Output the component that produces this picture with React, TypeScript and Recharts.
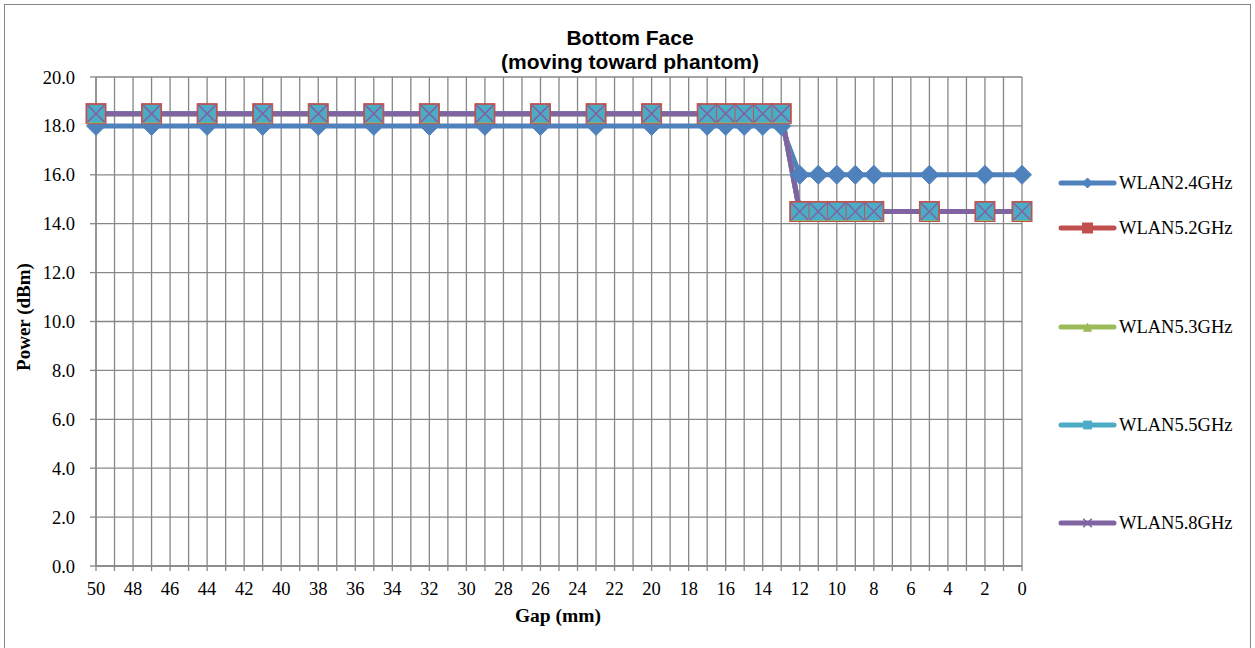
import React from 'react';
import { LineChart, Line, XAxis, YAxis, CartesianGrid } from 'recharts';

// gap positions in mm (the x axis runs from 50 down to 0)
const gaps = [50, 47, 44, 41, 38, 35, 32, 29, 26, 23, 20, 17, 16, 15, 14, 13, 12, 11, 10, 9, 8, 5, 2, 0];
const wlan24 = [18, 18, 18, 18, 18, 18, 18, 18, 18, 18, 18, 18, 18, 18, 18, 18, 16, 16, 16, 16, 16, 16, 16, 16];
const wlan52 = [18.5, 18.5, 18.5, 18.5, 18.5, 18.5, 18.5, 18.5, 18.5, 18.5, 18.5, 18.5, 18.5, 18.5, 18.5, 18.5, 14.5, 14.5, 14.5, 14.5, 14.5, 14.5, 14.5, 14.5];
const wlan53 = [18.5, 18.5, 18.5, 18.5, 18.5, 18.5, 18.5, 18.5, 18.5, 18.5, 18.5, 18.5, 18.5, 18.5, 18.5, 18.5, 14.5, 14.5, 14.5, 14.5, 14.5, 14.5, 14.5, 14.5];
const wlan55 = [18.5, 18.5, 18.5, 18.5, 18.5, 18.5, 18.5, 18.5, 18.5, 18.5, 18.5, 18.5, 18.5, 18.5, 18.5, 18.5, 14.5, 14.5, 14.5, 14.5, 14.5, 14.5, 14.5, 14.5];
const wlan58 = [18.5, 18.5, 18.5, 18.5, 18.5, 18.5, 18.5, 18.5, 18.5, 18.5, 18.5, 18.5, 18.5, 18.5, 18.5, 18.5, 14.5, 14.5, 14.5, 14.5, 14.5, 14.5, 14.5, 14.5];

const xTicks = Array.from({ length: 51 }, (_, i) => i);
const yTicks = [0, 2, 4, 6, 8, 10, 12, 14, 16, 18, 20];
const yMinorTicks = [1, 3, 5, 7, 9, 11, 13, 15, 17, 19];

const data = gaps.map((gap, i) => ({
    gap,
    w24: wlan24[i],
    w52: wlan52[i],
    w53: wlan53[i],
    w55: wlan55[i],
    w58: wlan58[i],
}));

const series = [
    { key: 'w24', name: 'WLAN2.4GHz', color: '#4F81BD', shape: 'diamond' },
    { key: 'w52', name: 'WLAN5.2GHz', color: '#C0504D', shape: 'square' },
    { key: 'w53', name: 'WLAN5.3GHz', color: '#9BBB59', shape: 'triangle' },
    { key: 'w55', name: 'WLAN5.5GHz', color: '#4BACC6', shape: 'square2' },
    { key: 'w58', name: 'WLAN5.8GHz', color: '#8064A2', shape: 'cross' },
];

const legendY = [183, 228, 327, 425, 523];

const gridColor = '#878787';
const serif = 'Liberation Serif';
const sans = 'Liberation Sans';

function Marker(cx: number, cy: number, shape: string, color: string, s: number) {
    switch (shape) {
        case 'diamond':
            return <path d={`M${cx},${cy - s}L${cx + s},${cy}L${cx},${cy + s}L${cx - s},${cy}Z`} fill={color} stroke={color} />;
        case 'square':
            return <rect x={cx - s} y={cy - s} width={2 * s} height={2 * s} fill={color} stroke={color} strokeWidth={1} />;
        case 'triangle':
            return <path d={`M${cx},${cy - s * 0.9}L${cx + s * 0.95},${cy + s * 0.95}L${cx - s * 0.95},${cy + s * 0.95}Z`} fill={color} />;
        case 'square2':
            return <rect x={cx - s * 0.88} y={cy - s * 0.88} width={1.76 * s} height={1.76 * s} fill={color} />;
        case 'cross':
            return (
                <path
                    d={`M${cx - s * 0.85},${cy - s * 0.85}L${cx + s * 0.85},${cy + s * 0.85}M${cx + s * 0.85},${cy - s * 0.85}L${cx - s * 0.85},${cy + s * 0.85}`}
                    stroke={color}
                    strokeWidth={1.6}
                    fill="none"
                />
            );
        default:
            return null;
    }
}

const makeDot = (shape: string, color: string) => (props: any) => {
    const { cx, cy, index } = props;
    if (cx == null || cy == null) return <g key={index} />;
    return <g key={index}>{Marker(cx, cy, shape, color, shape === 'diamond' ? 9.5 : 10)}</g>;
};

export default function App() {
    return (
        <div
            style={{
                position: 'absolute',
                left: 0,
                top: 0,
                width: 1255,
                height: 648,
                background: '#fff',
                overflow: 'hidden',
                fontFamily: serif,
            }}
        >
            <div
                style={{
                    position: 'absolute',
                    left: 4,
                    top: 4,
                    width: 1247,
                    height: 660,
                    border: `1.5px solid ${gridColor}`,
                    boxSizing: 'border-box',
                }}
            />
            <LineChart
                width={1255}
                height={648}
                data={data}
                margin={{ top: 77, right: 233, bottom: 42, left: 0 }}
                style={{ fontFamily: serif }}
            >
                <CartesianGrid stroke={gridColor} strokeWidth={1.3} />
                <XAxis
                    dataKey="gap"
                    type="number"
                    domain={[0, 50]}
                    reversed
                    ticks={xTicks}
                    interval={0}
                    height={40}
                    tickSize={5}
                    tickMargin={11}
                    tickFormatter={(v) => (v % 2 === 0 ? `${v}` : '')}
                    stroke={gridColor}
                    strokeWidth={1.3}
                    tick={{ fill: '#000', fontSize: 18.5, style: { fontFamily: serif } }}
                />
                <YAxis
                    type="number"
                    domain={[0, 20]}
                    ticks={yTicks}
                    interval={0}
                    width={96}
                    tickSize={6}
                    tickMargin={15}
                    tickFormatter={(v) => v.toFixed(1)}
                    stroke={gridColor}
                    strokeWidth={1.3}
                    tick={{ fill: '#000', fontSize: 18.5, style: { fontFamily: serif } }}
                />
                <YAxis
                    yAxisId="minor"
                    type="number"
                    domain={[0, 20]}
                    ticks={yMinorTicks}
                    interval={0}
                    width={0}
                    mirror
                    axisLine={false}
                    tickSize={4}
                    tickFormatter={() => ''}
                    stroke={gridColor}
                    tick={{ fill: 'none' }}
                />
                {series.map((s) => (
                    <Line
                        key={s.key}
                        type="linear"
                        dataKey={s.key}
                        name={s.name}
                        stroke={s.color}
                        strokeWidth={5}
                        dot={makeDot(s.shape, s.color)}
                        activeDot={false}
                        isAnimationActive={false}
                    />
                ))}
            </LineChart>

            <div
                style={{
                    position: 'absolute',
                    left: 330,
                    width: 600,
                    top: 26,
                    textAlign: 'center',
                    fontFamily: sans,
                    fontWeight: 'bold',
                    fontSize: 21,
                    lineHeight: '24px',
                }}
            >
                <div>Bottom Face</div>
                <div>(moving toward phantom)</div>
            </div>

            <div
                style={{
                    position: 'absolute',
                    left: 408,
                    width: 300,
                    top: 604,
                    textAlign: 'center',
                    fontWeight: 'bold',
                    fontSize: 19.5,
                    lineHeight: '24px',
                }}
            >
                Gap (mm)
            </div>

            <div
                style={{
                    position: 'absolute',
                    left: 24 - 100,
                    top: 317 - 12,
                    width: 200,
                    textAlign: 'center',
                    transform: 'rotate(-90deg)',
                    fontWeight: 'bold',
                    fontSize: 19,
                    lineHeight: '24px',
                }}
            >
                Power (dBm)
            </div>

            <svg style={{ position: 'absolute', left: 0, top: 0 }} width={1255} height={648} pointerEvents="none">
                {series.map((s, i) => (
                    <g key={s.key}>
                        <line x1={1061} x2={1114} y1={legendY[i]} y2={legendY[i]} stroke={s.color} strokeWidth={5} strokeLinecap="round" />
                        {Marker(1087.5, legendY[i], s.shape, s.color, 5)}
                        <text x={1119} y={legendY[i]} dy="0.35em" fontSize={18.5} fill="#000" style={{ fontFamily: serif }}>
                            {s.name}
                        </text>
                    </g>
                ))}
            </svg>
        </div>
    );
}
